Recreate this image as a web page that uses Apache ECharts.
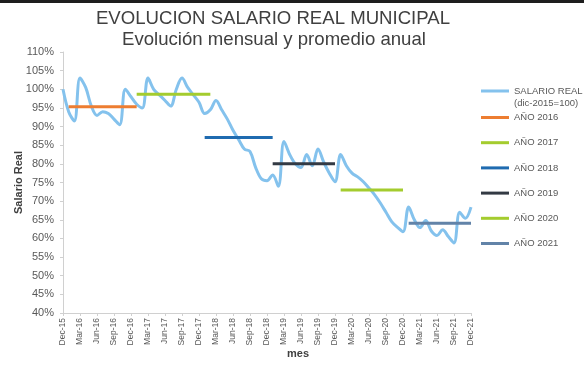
<!DOCTYPE html>
<html><head><meta charset="utf-8">
<script src="https://cdn.jsdelivr.net/npm/echarts@6/dist/echarts.min.js"></script>
<style>html,body{margin:0;padding:0;background:#fff}#c{width:584px;height:365px}</style>
</head><body><div id="c"></div>
<script>
// Months Dec-15 .. Dec-21
const monthNames = ['Jan','Feb','Mar','Apr','May','Jun','Jul','Aug','Sep','Oct','Nov','Dec'];
const categories = ['Dec-15'];
for (let y = 16; y <= 21; y++) for (const m of monthNames) categories.push(m + '-' + y);

const salarioReal = [
  100,
  94, 91.5, 103, 100.5, 95.5, 93, 94, 93.5, 92, 90.5, 100, 98,
  96, 95, 103, 100, 98.5, 97, 95.5, 100, 103, 100.5, 98.5, 96.5,
  93.5, 94.5, 97, 94.5, 92, 89, 86.5, 84, 83.3, 79, 76, 75.5,
  77, 74, 86, 82.5, 80, 79, 82.5, 79.5, 84, 80.5, 77.5, 75.2,
  82.5, 79.5, 77.5, 76.5, 75.2, 73.5, 71.7, 69.5, 67, 64.5, 63, 61.8,
  68.4, 65, 62.9, 64.8, 62, 60.8, 62.3, 60.5, 58.8, 67, 65.4, 68.4
];

const avgNames = ['AÑO 2016','AÑO 2017','AÑO 2018','AÑO 2019','AÑO 2020','AÑO 2021'];
const avgValues = [95.3, 98.7, 87.1, 80.0, 73.0, 64.1];
const avgFrom = ['Jan-16','Jan-17','Jan-18','Jan-19','Jan-20','Jan-21'];
const avgTo   = ['Jan-17','Feb-18','Jan-19','Dec-19','Dec-20','Dec-21'];
const avgColors = ['#ed7d31','#a4cc2e','#1f6bb0','#333a44','#a4cc2e','#6283a8'];

const series = [{
  name: 'SALARIO REAL', type: 'line', data: salarioReal, smooth: 0.35,
  symbol: 'none', lineStyle: { width: 3, color: '#84c2ed' }, itemStyle: { color: '#84c2ed' }, z: 3
}];
avgNames.forEach((n, i) => {
  const a = categories.indexOf(avgFrom[i]), b = categories.indexOf(avgTo[i]);
  const d = categories.map((_, k) => (k >= a && k <= b) ? avgValues[i] : null);
  series.push({ name: n, type: 'line', data: d, symbol: 'none',
    lineStyle: { width: 3, color: avgColors[i] }, itemStyle: { color: avgColors[i] }, z: 4 });
});

const FONT = 'Liberation Sans, Arial';
const chart = echarts.init(document.getElementById('c'));
chart.setOption({
  animation: false,
  backgroundColor: '#fff',
  title: [{
    text: 'EVOLUCION SALARIO REAL MUNICIPAL', left: 268, top: 4, textAlign: 'center',
    textStyle: { fontFamily: FONT, fontSize: 18.6, fontWeight: 'normal', color: '#404040' }
  }, {
    text: 'Evolución mensual y promedio anual', left: 269, top: 25, textAlign: 'center',
    textStyle: { fontFamily: FONT, fontSize: 18.6, fontWeight: 'normal', color: '#404040' }
  }],
  graphic: [{ type: 'rect', shape: { x: 0, y: 0, width: 584, height: 3 }, style: { fill: '#1e1e1e' } }],
  legend: [{
    data: ['SALARIO REAL'], orient: 'vertical', left: 476, top: 80,
    itemWidth: 28, itemHeight: 15,
    icon: 'path://M0,0L28,0L28,3L0,3ZM27.9,15L28,15L28,14.9Z',
    formatter: () => 'SALARIO REAL\n(dic-2015=100)',
    textStyle: { fontFamily: FONT, fontSize: 9.5, color: '#595959', lineHeight: 12 }
  }, {
    data: avgNames, orient: 'vertical', left: 476, top: 106.5,
    itemWidth: 28, itemHeight: 3, itemGap: 13.2,
    icon: 'path://M0,0L28,0L28,3L0,3Z',
    textStyle: { fontFamily: FONT, fontSize: 9.5, color: '#595959', lineHeight: 12 }
  }],
  grid: { left: 63, right: 113, top: 52, bottom: 52, outerBoundsMode: 'none', containLabel: false },
  xAxis: {
    type: 'category', data: categories, boundaryGap: false,
    name: 'mes', nameLocation: 'middle', nameGap: 35, nameMoveOverlap: false,
    nameTextStyle: { fontFamily: FONT, fontSize: 11, fontWeight: 'bold', color: '#404040', padding: [0, 0, 0, 62] },
    axisLine: { lineStyle: { color: '#d0d0d0' } },
    axisTick: { interval: 2, length: 3, lineStyle: { color: '#d0d0d0' } },
    axisLabel: { interval: 2, rotate: 90, fontFamily: FONT, fontSize: 8.5, color: '#595959', margin: 5 },
    splitLine: { show: false }
  },
  yAxis: {
    type: 'value', min: 40, max: 110, interval: 5,
    name: 'Salario Real', nameLocation: 'middle', nameGap: 39, nameRotate: 90, nameMoveOverlap: false,
    nameTextStyle: { fontFamily: FONT, fontSize: 11, fontWeight: 'bold', color: '#404040' },
    axisLine: { show: true, lineStyle: { color: '#d0d0d0' } },
    axisTick: { show: true, length: 3, lineStyle: { color: '#d0d0d0' } },
    axisLabel: { formatter: '{value}%', fontFamily: FONT, fontSize: 11, color: '#595959', margin: 9 },
    splitLine: { show: false }
  },
  series: series
});
</script></body></html>
